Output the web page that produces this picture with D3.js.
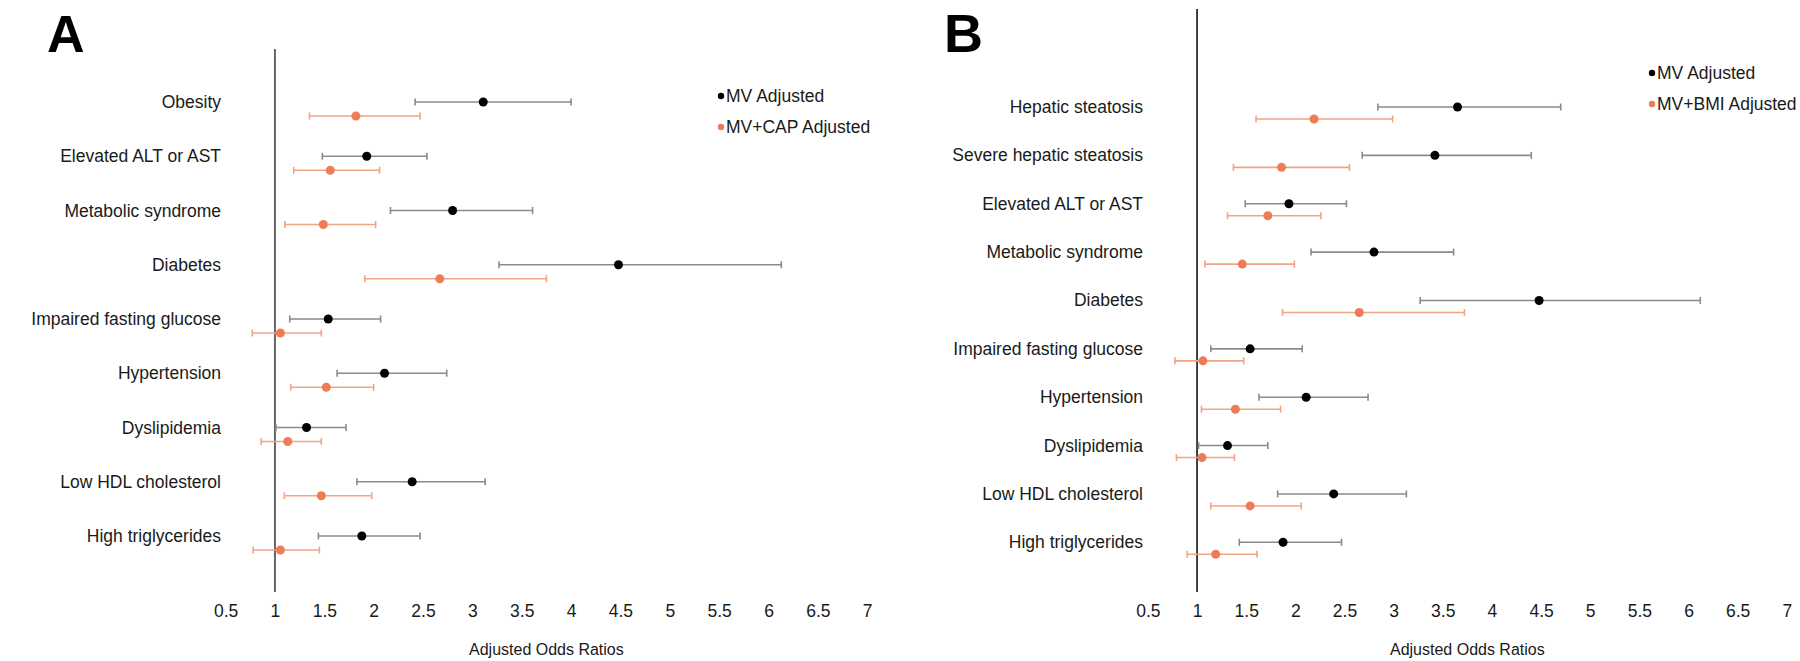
<!DOCTYPE html>
<html>
<head>
<meta charset="utf-8">
<script src="https://cdn.jsdelivr.net/npm/d3@7"></script>
<style>
  body { margin:0; background:#fff; }
  svg { font-family: "Liberation Sans", Arial, sans-serif; }
</style>
</head>
<body>
<script>
// panel A data
var catsA = ["Obesity","Elevated ALT or AST","Metabolic syndrome","Diabetes","Impaired fasting glucose",
             "Hypertension","Dyslipidemia","Low HDL cholesterol","High triglycerides"];
var mvA    = [3.11, 1.93, 2.80, 4.48, 1.54, 2.11, 1.32, 2.39, 1.88];
var mvA_lo = [2.42, 1.48, 2.17, 3.27, 1.15, 1.63, 1.01, 1.83, 1.44];
var mvA_hi = [4.00, 2.54, 3.61, 6.13, 2.07, 2.74, 1.72, 3.13, 2.47];
var capA    = [1.82, 1.56, 1.49, 2.67, 1.055, 1.52, 1.13, 1.47, 1.055];
var capA_lo = [1.35, 1.19, 1.10, 1.91, 0.77, 1.16, 0.86, 1.095, 0.78];
var capA_hi = [2.47, 2.06, 2.02, 3.75, 1.47, 2.00, 1.47, 1.98, 1.45];

// panel B data
var catsB = ["Hepatic steatosis","Severe hepatic steatosis","Elevated ALT or AST","Metabolic syndrome","Diabetes",
             "Impaired fasting glucose","Hypertension","Dyslipidemia","Low HDL cholesterol","High triglycerides"];
var mvB    = [3.65, 3.42, 1.935, 2.80, 4.48, 1.54, 2.11, 1.31, 2.39, 1.875];
var mvB_lo = [2.84, 2.68, 1.49, 2.16, 3.27, 1.14, 1.63, 1.015, 1.82, 1.43];
var mvB_hi = [4.70, 4.40, 2.52, 3.61, 6.12, 2.07, 2.74, 1.72, 3.13, 2.47];
var bmiB    = [2.19, 1.86, 1.72, 1.46, 2.65, 1.06, 1.39, 1.05, 1.54, 1.19];
var bmiB_lo = [1.60, 1.37, 1.31, 1.08, 1.87, 0.775, 1.045, 0.79, 1.14, 0.90];
var bmiB_hi = [2.99, 2.55, 2.26, 1.99, 3.72, 1.475, 1.85, 1.38, 2.06, 1.61];

var ticks = [0.5,1,1.5,2,2.5,3,3.5,4,4.5,5,5.5,6,6.5,7];
var seriesNamesA = ["MV Adjusted","MV+CAP Adjusted"];
var seriesNamesB = ["MV Adjusted","MV+BMI Adjusted"];

var black = "#000", greyLine = "#8a8a8a";
var orange = "#ee7d55", orangeLine = "#f2a384";

var svg = d3.select("body").append("svg")
    .attr("width",1800).attr("height",661);

function panel(opt){
  var g = svg.append("g");
  var x = d3.scaleLinear().domain([0.5,7]).range(opt.xr);
  var y = d3.scalePoint().domain(opt.cats).range(opt.yr);

  // panel letter
  g.append("text").attr("x",opt.letterX).attr("y",52)
    .attr("font-size",opt.letterSize).attr("font-weight","bold").attr("fill","#000")
    .text(opt.letter);

  // category labels
  g.selectAll("text.cat").data(opt.cats).enter().append("text")
    .attr("class","cat")
    .attr("x",opt.labelX).attr("y",function(d){return y(d);})
    .attr("text-anchor","end").attr("dominant-baseline","central")
    .attr("font-size",17.5).attr("fill","#1a1a1a")
    .text(function(d){return d;});

  // reference line at OR = 1
  g.append("line")
    .attr("x1",x(1)).attr("x2",x(1))
    .attr("y1",opt.lineTop).attr("y2",592)
    .attr("stroke",opt.refColor).attr("stroke-width",opt.refWidth);

  // x axis
  var ax = g.append("g").attr("transform","translate(0,605)")
    .call(d3.axisBottom(x).tickValues(ticks).tickSize(0).tickPadding(0)
      .tickFormat(function(d){return String(d);}));
  ax.select(".domain").remove();
  ax.selectAll("text").attr("font-size",17.5).attr("fill","#1a1a1a")
    .attr("font-family","Liberation Sans, Arial, sans-serif");

  g.append("text").attr("x",(opt.xr[0]+opt.xr[1])/2).attr("y",649)
    .attr("text-anchor","middle").attr("dominant-baseline","central")
    .attr("font-size",16).attr("fill","#1a1a1a")
    .text("Adjusted Odds Ratios");

  function series(vals, lo, hi, dy, lineCol, dotCol){
    var s = g.append("g");
    var rows = opt.cats.map(function(c,i){return {c:c, v:vals[i], lo:lo[i], hi:hi[i]};});
    s.selectAll("line.bar").data(rows).enter().append("line")
      .attr("x1",function(d){return x(d.lo);}).attr("x2",function(d){return x(d.hi);})
      .attr("y1",function(d){return y(d.c)+dy;}).attr("y2",function(d){return y(d.c)+dy;})
      .attr("stroke",lineCol).attr("stroke-width",1.6);
    ["lo","hi"].forEach(function(k){
      s.selectAll("line.cap"+k).data(rows).enter().append("line")
        .attr("x1",function(d){return x(d[k]);}).attr("x2",function(d){return x(d[k]);})
        .attr("y1",function(d){return y(d.c)+dy-3.5;}).attr("y2",function(d){return y(d.c)+dy+3.5;})
        .attr("stroke",lineCol).attr("stroke-width",1.6);
    });
    s.selectAll("circle").data(rows).enter().append("circle")
      .attr("cx",function(d){return x(d.v);}).attr("cy",function(d){return y(d.c)+dy;})
      .attr("r",4.5).attr("fill",dotCol);
  }
  series(opt.s1, opt.s1lo, opt.s1hi, 0, greyLine, black);
  series(opt.s2, opt.s2lo, opt.s2hi, opt.off, orangeLine, orange);

  // legend
  var lg = g.append("g");
  opt.names.forEach(function(n,i){
    var ly = opt.legY + i*31;
    lg.append("circle").attr("cx",opt.legX).attr("cy",ly).attr("r",3.2)
      .attr("fill", i===0 ? black : orange);
    lg.append("text").attr("x",opt.legX+5).attr("y",ly)
      .attr("dominant-baseline","central").attr("font-size",17.5).attr("fill","#1a1a1a")
      .text(n);
  });
}

panel({letter:"A", letterX:47, letterSize:52, cats:catsA,
  xr:[225.6,867.2], yr:[102,536], labelX:221, lineTop:49,
  refColor:"#666", refWidth:2,
  s1:mvA, s1lo:mvA_lo, s1hi:mvA_hi, s2:capA, s2lo:capA_lo, s2hi:capA_hi, off:14,
  names:seriesNamesA, legX:721, legY:96});

panel({letter:"B", letterX:944, letterSize:54, cats:catsB,
  xr:[1147.9,1786.8], yr:[107,542.3], labelX:1143, lineTop:9,
  refColor:"#111", refWidth:1.6,
  s1:mvB, s1lo:mvB_lo, s1hi:mvB_hi, s2:bmiB, s2lo:bmiB_lo, s2hi:bmiB_hi, off:12,
  names:seriesNamesB, legX:1652, legY:73});
</script>
</body>
</html>
